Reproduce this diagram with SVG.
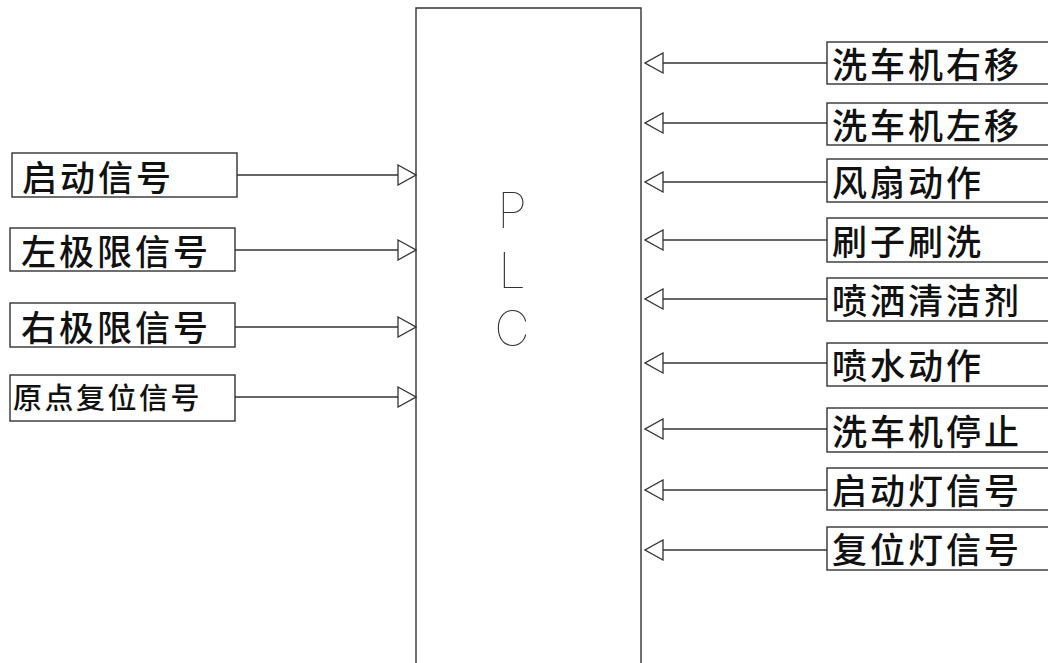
<svg xmlns="http://www.w3.org/2000/svg" width="1048" height="663" viewBox="0 0 1048 663">
<defs>
<style>
.box{fill:#fff;stroke:#333;stroke-width:1.4}
.ln{stroke:#333;stroke-width:1.4;fill:none}
.lbl{font-family:"Noto Sans CJK SC","Noto Sans",sans-serif;font-size:35px;letter-spacing:3px;fill:#111;font-weight:500;dominant-baseline:central}
.sm{font-size:29px;letter-spacing:2.5px}
.plc{font-family:Inter,"DejaVu Sans",sans-serif;font-weight:100;font-size:49px;fill:#333;text-anchor:middle}
</style>
<marker id="ah" markerUnits="userSpaceOnUse" markerWidth="20" markerHeight="22" viewBox="-1 -1 20 22" refX="18" refY="10" orient="auto">
<path d="M0,0 L18,10 L0,20 Z" fill="#fff" stroke="#333" stroke-width="1.3"/>
</marker>
</defs>
<rect width="1048" height="663" fill="#fff"/>
<g id="plc">
<path class="ln" d="M416,670 V8 H641 V670"/>
<text class="plc" x="512" y="228">P</text>
<text class="plc" x="512" y="288">L</text>
<text class="plc" x="512" y="346">C</text>
</g>
<g id="connectors">
<line class="ln" x1="237" y1="175" x2="416" y2="175" marker-end="url(#ah)"/>
<line class="ln" x1="235" y1="250" x2="416" y2="250" marker-end="url(#ah)"/>
<line class="ln" x1="235" y1="327" x2="416" y2="327" marker-end="url(#ah)"/>
<line class="ln" x1="235" y1="397" x2="416" y2="397" marker-end="url(#ah)"/>
<line class="ln" x1="827" y1="63" x2="645" y2="63" marker-end="url(#ah)"/>
<line class="ln" x1="827" y1="123" x2="645" y2="123" marker-end="url(#ah)"/>
<line class="ln" x1="827" y1="182" x2="645" y2="182" marker-end="url(#ah)"/>
<line class="ln" x1="827" y1="240" x2="645" y2="240" marker-end="url(#ah)"/>
<line class="ln" x1="827" y1="299" x2="645" y2="299" marker-end="url(#ah)"/>
<line class="ln" x1="827" y1="363" x2="645" y2="363" marker-end="url(#ah)"/>
<line class="ln" x1="827" y1="429" x2="645" y2="429" marker-end="url(#ah)"/>
<line class="ln" x1="827" y1="490" x2="645" y2="490" marker-end="url(#ah)"/>
<line class="ln" x1="827" y1="550" x2="645" y2="550" marker-end="url(#ah)"/>
</g>
<g id="in1"><rect class="box" x="12" y="153" width="225" height="44"/><text class="lbl" x="22" y="175">启动信号</text></g>
<g id="in2"><rect class="box" x="10" y="228" width="225" height="43"/><text class="lbl" x="21" y="249">左极限信号</text></g>
<g id="in3"><rect class="box" x="10" y="303" width="225" height="44"/><text class="lbl" x="21" y="325">右极限信号</text></g>
<g id="in4"><rect class="box" x="10" y="375" width="225" height="46"/><text class="lbl sm" x="13" y="396">原点复位信号</text></g>
<g id="out1"><rect class="box" x="827" y="42" width="230" height="42"/><text class="lbl" x="832" y="62">洗车机右移</text></g>
<g id="out2"><rect class="box" x="827" y="103" width="230" height="42"/><text class="lbl" x="832" y="123">洗车机左移</text></g>
<g id="out3"><rect class="box" x="827" y="159" width="230" height="43"/><text class="lbl" x="832" y="180">风扇动作</text></g>
<g id="out4"><rect class="box" x="827" y="218" width="230" height="44"/><text class="lbl" x="832" y="239">刷子刷洗</text></g>
<g id="out5"><rect class="box" x="827" y="278" width="230" height="43"/><text class="lbl" x="832" y="298">喷洒清洁剂</text></g>
<g id="out6"><rect class="box" x="827" y="343" width="230" height="43"/><text class="lbl" x="832" y="363">喷水动作</text></g>
<g id="out7"><rect class="box" x="827" y="408" width="230" height="44"/><text class="lbl" x="832" y="429">洗车机停止</text></g>
<g id="out8"><rect class="box" x="827" y="468" width="230" height="42"/><text class="lbl" x="832" y="488">启动灯信号</text></g>
<g id="out9"><rect class="box" x="827" y="527" width="230" height="43"/><text class="lbl" x="832" y="547">复位灯信号</text></g>
</svg>
